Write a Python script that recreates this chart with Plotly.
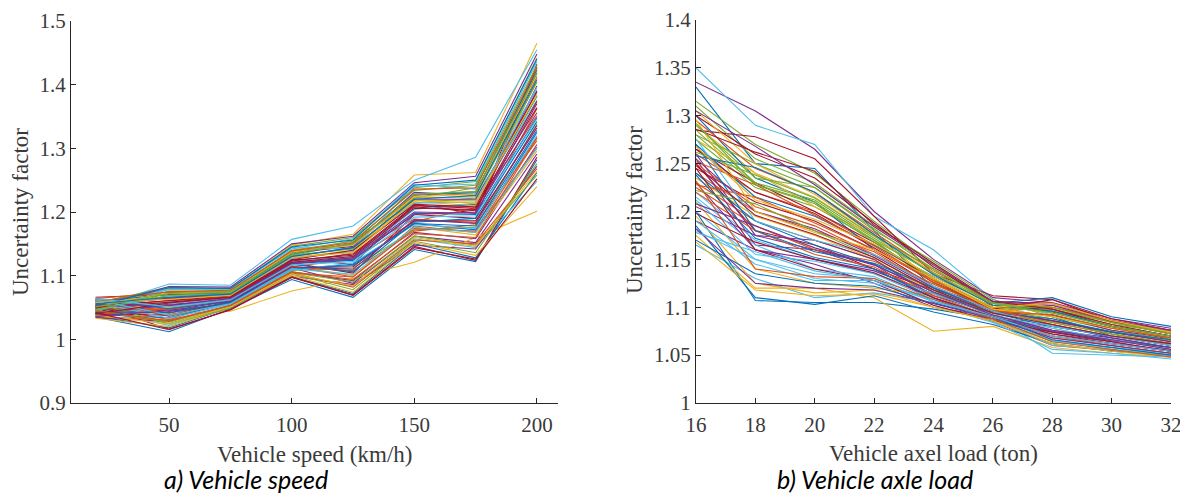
import plotly.graph_objects as go

# ---------------- data ----------------
speed_x = [20, 50, 75, 100, 125, 150, 175, 200]
speed_ticks = [50, 100, 150, 200]
speed_yticks = [0.9, 1.0, 1.1, 1.2, 1.3, 1.4, 1.5]
speed_yticktext = ["0.9", "1", "1.1", "1.2", "1.3", "1.4", "1.5"]

speed_runs = [
    [1.045, 1.058, 1.066, 1.121, 1.128, 1.205, 1.212, 1.382],
    [1.052, 1.031, 1.061, 1.104, 1.098, 1.178, 1.168, 1.318],
    [1.048, 1.080, 1.078, 1.148, 1.165, 1.258, 1.262, 1.465],
    [1.061, 1.044, 1.056, 1.112, 1.088, 1.162, 1.152, 1.291],
    [1.038, 1.074, 1.071, 1.131, 1.152, 1.222, 1.238, 1.421],
    [1.050, 1.087, 1.085, 1.157, 1.178, 1.250, 1.286, 1.455],
    [1.066, 1.071, 1.074, 1.126, 1.118, 1.212, 1.198, 1.432],
    [1.035, 1.012, 1.048, 1.094, 1.066, 1.141, 1.122, 1.282],
    [1.042, 1.049, 1.063, 1.117, 1.136, 1.189, 1.183, 1.362],
    [1.040, 1.040, 1.044, 1.076, 1.096, 1.121, 1.160, 1.201],
    [1.055, 1.064, 1.069, 1.136, 1.146, 1.231, 1.226, 1.412],
    [1.047, 1.025, 1.052, 1.108, 1.112, 1.172, 1.176, 1.338],
    [1.058, 1.078, 1.080, 1.142, 1.158, 1.244, 1.236, 1.392],
    [1.044, 1.055, 1.060, 1.120, 1.104, 1.196, 1.190, 1.428],
    [1.036, 1.018, 1.050, 1.098, 1.072, 1.150, 1.128, 1.262],
    [1.063, 1.036, 1.058, 1.114, 1.126, 1.185, 1.207, 1.351],
    [1.050, 1.068, 1.072, 1.128, 1.140, 1.218, 1.218, 1.372],
    [1.041, 1.046, 1.055, 1.106, 1.092, 1.168, 1.158, 1.306],
    [1.057, 1.082, 1.079, 1.146, 1.160, 1.238, 1.248, 1.442],
    [1.046, 1.022, 1.051, 1.102, 1.083, 1.158, 1.144, 1.248],
    [1.053, 1.060, 1.067, 1.124, 1.132, 1.208, 1.202, 1.398],
    [1.039, 1.034, 1.057, 1.110, 1.118, 1.182, 1.172, 1.325],
    [1.064, 1.074, 1.076, 1.138, 1.149, 1.226, 1.232, 1.418],
    [1.049, 1.050, 1.064, 1.116, 1.100, 1.176, 1.164, 1.296],
    [1.034, 1.028, 1.053, 1.099, 1.086, 1.148, 1.142, 1.272],
    [1.059, 1.066, 1.070, 1.132, 1.156, 1.214, 1.222, 1.382],
    [1.043, 1.079, 1.077, 1.144, 1.142, 1.240, 1.244, 1.436],
    [1.054, 1.016, 1.046, 1.097, 1.070, 1.146, 1.124, 1.286],
    [1.047, 1.052, 1.062, 1.119, 1.124, 1.198, 1.196, 1.348],
    [1.062, 1.041, 1.058, 1.113, 1.108, 1.170, 1.180, 1.312],
    [1.037, 1.062, 1.068, 1.128, 1.138, 1.216, 1.210, 1.406],
    [1.051, 1.083, 1.082, 1.150, 1.162, 1.246, 1.256, 1.448],
    [1.045, 1.027, 1.054, 1.105, 1.090, 1.162, 1.148, 1.258],
    [1.056, 1.056, 1.065, 1.122, 1.130, 1.204, 1.214, 1.376],
    [1.040, 1.038, 1.059, 1.112, 1.114, 1.186, 1.186, 1.332],
    [1.060, 1.070, 1.073, 1.134, 1.150, 1.228, 1.230, 1.424],
    [1.048, 1.047, 1.061, 1.115, 1.098, 1.174, 1.170, 1.302],
    [1.033, 1.020, 1.050, 1.100, 1.074, 1.152, 1.132, 1.240],
    [1.052, 1.065, 1.071, 1.130, 1.144, 1.220, 1.220, 1.388],
    [1.044, 1.076, 1.075, 1.140, 1.154, 1.234, 1.242, 1.430],
    [1.058, 1.033, 1.055, 1.109, 1.120, 1.180, 1.174, 1.320],
    [1.049, 1.058, 1.066, 1.123, 1.134, 1.210, 1.206, 1.364],
    [1.063, 1.048, 1.060, 1.118, 1.106, 1.184, 1.190, 1.342],
    [1.036, 1.030, 1.053, 1.104, 1.082, 1.156, 1.150, 1.268],
    [1.054, 1.072, 1.074, 1.137, 1.148, 1.224, 1.228, 1.414],
    [1.041, 1.054, 1.064, 1.118, 1.128, 1.200, 1.198, 1.370],
    [1.057, 1.024, 1.049, 1.103, 1.078, 1.154, 1.136, 1.276],
    [1.046, 1.068, 1.070, 1.127, 1.138, 1.214, 1.216, 1.396],
    [1.050, 1.061, 1.068, 1.125, 1.140, 1.212, 1.208, 1.390],
    [1.043, 1.042, 1.058, 1.111, 1.116, 1.182, 1.178, 1.328],
    [1.059, 1.075, 1.077, 1.139, 1.152, 1.236, 1.238, 1.426],
    [1.038, 1.024, 1.051, 1.103, 1.084, 1.160, 1.146, 1.264],
    [1.055, 1.053, 1.064, 1.120, 1.126, 1.196, 1.200, 1.356],
    [1.047, 1.069, 1.072, 1.132, 1.142, 1.222, 1.224, 1.404],
    [1.062, 1.038, 1.056, 1.111, 1.102, 1.176, 1.168, 1.300],
    [1.040, 1.057, 1.066, 1.121, 1.130, 1.206, 1.204, 1.374],
    [1.053, 1.081, 1.080, 1.145, 1.156, 1.242, 1.250, 1.440],
    [1.045, 1.029, 1.053, 1.106, 1.094, 1.166, 1.160, 1.316],
    [1.058, 1.063, 1.069, 1.129, 1.136, 1.218, 1.214, 1.384],
    [1.036, 1.045, 1.060, 1.114, 1.110, 1.188, 1.182, 1.336],
    [1.051, 1.072, 1.074, 1.135, 1.150, 1.228, 1.232, 1.418],
    [1.064, 1.051, 1.062, 1.117, 1.122, 1.192, 1.194, 1.346],
    [1.042, 1.015, 1.047, 1.098, 1.069, 1.144, 1.126, 1.252],
    [1.056, 1.066, 1.071, 1.130, 1.144, 1.220, 1.226, 1.408],
]

load_x = [16, 18, 20, 22, 24, 26, 28, 30, 32]
load_ticks = [16, 18, 20, 22, 24, 26, 28, 30, 32]
load_yticks = [1.0, 1.05, 1.1, 1.15, 1.2, 1.25, 1.3, 1.35, 1.4]
load_yticktext = ["1", "1.05", "1.1", "1.15", "1.2", "1.25", "1.3", "1.35", "1.4"]

load_runs = [
    [1.330, 1.250, 1.245, 1.180, 1.120, 1.100, 1.090, 1.070, 1.060],
    [1.260, 1.220, 1.200, 1.165, 1.130, 1.095, 1.100, 1.085, 1.075],
    [1.290, 1.240, 1.215, 1.175, 1.140, 1.105, 1.095, 1.080, 1.070],
    [1.335, 1.305, 1.265, 1.200, 1.150, 1.110, 1.105, 1.088, 1.078],
    [1.315, 1.270, 1.240, 1.190, 1.145, 1.100, 1.085, 1.075, 1.065],
    [1.350, 1.290, 1.270, 1.195, 1.160, 1.108, 1.092, 1.078, 1.068],
    [1.285, 1.278, 1.255, 1.195, 1.135, 1.112, 1.108, 1.085, 1.072],
    [1.200, 1.107, 1.105, 1.105, 1.098, 1.088, 1.070, 1.062, 1.055],
    [1.230, 1.190, 1.170, 1.150, 1.110, 1.085, 1.060, 1.055, 1.050],
    [1.175, 1.120, 1.120, 1.110, 1.075, 1.080, 1.058, 1.052, 1.048],
    [1.190, 1.160, 1.145, 1.125, 1.100, 1.090, 1.075, 1.065, 1.058],
    [1.275, 1.225, 1.205, 1.170, 1.125, 1.098, 1.088, 1.072, 1.062],
    [1.165, 1.130, 1.110, 1.115, 1.105, 1.092, 1.052, 1.050, 1.048],
    [1.250, 1.180, 1.165, 1.140, 1.118, 1.102, 1.095, 1.080, 1.070],
    [1.300, 1.235, 1.210, 1.160, 1.130, 1.090, 1.082, 1.068, 1.058],
    [1.240, 1.200, 1.180, 1.158, 1.120, 1.096, 1.102, 1.084, 1.072],
    [1.210, 1.140, 1.125, 1.120, 1.112, 1.094, 1.068, 1.060, 1.052],
    [1.255, 1.165, 1.160, 1.145, 1.105, 1.088, 1.080, 1.070, 1.062],
    [1.280, 1.250, 1.225, 1.180, 1.145, 1.104, 1.096, 1.082, 1.074],
    [1.220, 1.170, 1.150, 1.135, 1.108, 1.085, 1.065, 1.058, 1.052],
    [1.265, 1.230, 1.200, 1.168, 1.128, 1.100, 1.098, 1.080, 1.066],
    [1.185, 1.110, 1.103, 1.112, 1.095, 1.082, 1.062, 1.054, 1.050],
    [1.295, 1.245, 1.220, 1.178, 1.138, 1.106, 1.100, 1.086, 1.076],
    [1.235, 1.195, 1.175, 1.150, 1.115, 1.092, 1.078, 1.066, 1.056],
    [1.205, 1.175, 1.160, 1.140, 1.110, 1.086, 1.072, 1.064, 1.054],
    [1.310, 1.255, 1.230, 1.185, 1.148, 1.108, 1.090, 1.076, 1.066],
    [1.180, 1.150, 1.135, 1.130, 1.102, 1.084, 1.056, 1.052, 1.046],
    [1.245, 1.210, 1.190, 1.160, 1.122, 1.096, 1.086, 1.074, 1.064],
    [1.270, 1.215, 1.195, 1.165, 1.132, 1.104, 1.110, 1.090, 1.080],
    [1.225, 1.185, 1.160, 1.148, 1.118, 1.090, 1.070, 1.062, 1.054],
    [1.195, 1.125, 1.115, 1.118, 1.100, 1.086, 1.066, 1.056, 1.050],
    [1.260, 1.175, 1.170, 1.150, 1.112, 1.094, 1.092, 1.076, 1.068],
    [1.285, 1.230, 1.212, 1.172, 1.135, 1.102, 1.094, 1.080, 1.070],
    [1.215, 1.165, 1.140, 1.132, 1.106, 1.088, 1.064, 1.058, 1.050],
    [1.300, 1.260, 1.235, 1.188, 1.142, 1.106, 1.104, 1.086, 1.074],
    [1.170, 1.135, 1.125, 1.122, 1.104, 1.090, 1.074, 1.066, 1.058],
    [1.250, 1.205, 1.185, 1.155, 1.124, 1.098, 1.084, 1.072, 1.062],
    [1.275, 1.240, 1.205, 1.175, 1.128, 1.100, 1.090, 1.078, 1.068],
    [1.230, 1.160, 1.150, 1.138, 1.114, 1.092, 1.076, 1.068, 1.058],
    [1.290, 1.235, 1.225, 1.182, 1.140, 1.104, 1.098, 1.084, 1.072],
    [1.200, 1.150, 1.130, 1.125, 1.108, 1.088, 1.060, 1.056, 1.048],
    [1.265, 1.220, 1.198, 1.162, 1.126, 1.098, 1.108, 1.088, 1.076],
    [1.240, 1.190, 1.165, 1.145, 1.116, 1.094, 1.080, 1.070, 1.060],
    [1.220, 1.180, 1.155, 1.142, 1.112, 1.090, 1.070, 1.060, 1.052],
    [1.305, 1.250, 1.218, 1.176, 1.136, 1.102, 1.094, 1.082, 1.070],
    [1.255, 1.200, 1.182, 1.154, 1.120, 1.096, 1.086, 1.074, 1.064],
    [1.280, 1.228, 1.208, 1.168, 1.130, 1.100, 1.096, 1.080, 1.068],
    [1.190, 1.145, 1.128, 1.128, 1.106, 1.092, 1.066, 1.058, 1.050],
    [1.245, 1.160, 1.140, 1.128, 1.102, 1.086, 1.074, 1.064, 1.054],
    [1.270, 1.180, 1.158, 1.146, 1.120, 1.094, 1.088, 1.074, 1.066],
    [1.228, 1.215, 1.188, 1.160, 1.128, 1.098, 1.082, 1.070, 1.060],
    [1.296, 1.200, 1.178, 1.160, 1.130, 1.098, 1.090, 1.078, 1.070],
    [1.182, 1.125, 1.120, 1.118, 1.104, 1.088, 1.068, 1.060, 1.052],
    [1.262, 1.238, 1.214, 1.174, 1.140, 1.104, 1.100, 1.084, 1.074],
    [1.212, 1.155, 1.148, 1.135, 1.114, 1.092, 1.078, 1.066, 1.056],
    [1.286, 1.262, 1.242, 1.186, 1.146, 1.106, 1.098, 1.082, 1.070],
    [1.238, 1.172, 1.152, 1.140, 1.110, 1.090, 1.066, 1.058, 1.050],
    [1.252, 1.228, 1.196, 1.164, 1.126, 1.096, 1.092, 1.078, 1.068],
    [1.168, 1.118, 1.112, 1.114, 1.100, 1.086, 1.062, 1.054, 1.048],
    [1.305, 1.268, 1.228, 1.184, 1.144, 1.106, 1.102, 1.086, 1.076],
    [1.222, 1.208, 1.180, 1.152, 1.118, 1.094, 1.084, 1.072, 1.062],
    [1.276, 1.190, 1.170, 1.155, 1.122, 1.096, 1.080, 1.070, 1.060],
    [1.198, 1.168, 1.150, 1.136, 1.110, 1.090, 1.072, 1.062, 1.054],
    [1.258, 1.246, 1.220, 1.176, 1.134, 1.102, 1.096, 1.080, 1.070],
    [1.232, 1.140, 1.132, 1.130, 1.108, 1.088, 1.064, 1.056, 1.048],
    [1.268, 1.212, 1.192, 1.166, 1.132, 1.100, 1.104, 1.086, 1.074],
    [1.208, 1.185, 1.162, 1.144, 1.116, 1.092, 1.076, 1.066, 1.056],
    [1.292, 1.228, 1.210, 1.170, 1.136, 1.104, 1.094, 1.080, 1.070],
    [1.178, 1.158, 1.138, 1.128, 1.106, 1.090, 1.070, 1.062, 1.054],
    [1.248, 1.196, 1.176, 1.152, 1.118, 1.094, 1.082, 1.070, 1.062],
]

# MATLAB default colour order
line_colors = ["#0072BD", "#D95319", "#EDB120", "#7E2F8E", "#77AC30", "#4DBEEE", "#A2142F"]

# ---------------- figure ----------------
fig = go.Figure()

for i, run in enumerate(speed_runs):
    fig.add_trace(go.Scatter(x=speed_x, y=run, mode="lines",
                             line=dict(color=line_colors[i % 7], width=1.1),
                             xaxis="x", yaxis="y", showlegend=False, hoverinfo="skip"))

for i, run in enumerate(load_runs):
    fig.add_trace(go.Scatter(x=load_x, y=run, mode="lines",
                             line=dict(color=line_colors[i % 7], width=1.1),
                             xaxis="x2", yaxis="y2", showlegend=False, hoverinfo="skip"))

# The page body adds an 8 px offset; positions below are screen pixels of the target.
OFF = 8
W, H = 1188, 494
SCR_TOP, SCR_BOT = 18, 403          # plot-area top / bottom on screen
T = SCR_TOP - OFF
B = H - (SCR_BOT - OFF)
PH = H - T - B

AX_COLOR = "#262626"
TXT_COLOR = "#3a3a3a"
tick_font = dict(family="Liberation Serif, Times New Roman, serif", size=21, color=TXT_COLOR)


def px_x(p):
    return (p - OFF) / W


def px_y(p):
    return (SCR_BOT - p) / PH


common = dict(showgrid=False, zeroline=False, showline=True, linecolor=AX_COLOR, linewidth=1,
              ticks="inside", ticklen=5, tickcolor=AX_COLOR, tickwidth=1, tickfont=tick_font,
              mirror=False, automargin=False, ticklabeloverflow="allow")

fig.update_layout(
    width=W, height=H,
    margin=dict(l=0, r=0, t=T, b=B, pad=0),
    paper_bgcolor="white", plot_bgcolor="white",
    xaxis=dict(domain=[px_x(71), px_x(558)], range=[10, 208.6], tickvals=speed_ticks,
               anchor="y", ticklabelstandoff=3, **common),
    yaxis=dict(domain=[0, px_y(21)], range=[0.9, 1.5], tickvals=speed_yticks,
               ticktext=speed_yticktext, anchor="x", **common),
    xaxis2=dict(domain=[px_x(696), px_x(1171)], range=[16, 32], tickvals=load_ticks,
                anchor="y2", ticklabelstandoff=3, **common),
    yaxis2=dict(domain=[0, px_y(20)], range=[1.0, 1.4], tickvals=load_yticks,
                ticktext=load_yticktext, anchor="x2", **common),
)

title_font = dict(family="Liberation Serif, Times New Roman, serif", size=23, color=TXT_COLOR)
cap_font = dict(family="Lato, Open Sans, sans-serif", size=25, color="#000000")

annotations = [
    dict(text="Vehicle speed (km/h)", x=px_x(314), y=px_y(454), font=title_font),
    dict(text="Vehicle axel load (ton)", x=px_x(933), y=px_y(453), font=title_font),
    dict(text="Uncertainty factor", x=px_x(21), y=px_y(212), textangle=-90, font=title_font),
    dict(text="Uncertainty factor", x=px_x(634), y=px_y(210), textangle=-90, font=title_font),
    dict(text="<i>a) Vehicle speed</i>", x=px_x(246), y=px_y(479), font=cap_font),
    dict(text="<i>b) Vehicle axle load</i>", x=px_x(875), y=px_y(479), font=cap_font),
]
for a in annotations:
    fig.add_annotation(xref="paper", yref="paper", showarrow=False,
                       xanchor="center", yanchor="middle", **a)

fig.write_html("out.html")
